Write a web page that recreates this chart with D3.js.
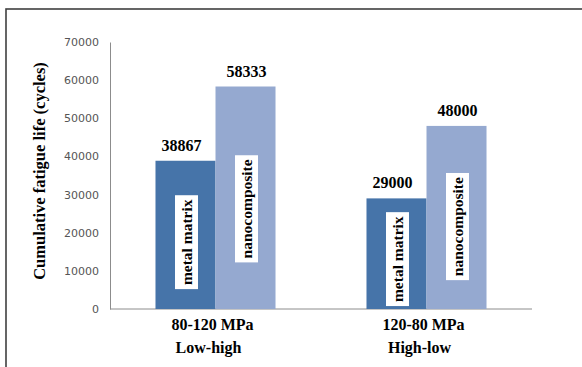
<!DOCTYPE html>
<html>
<head>
<meta charset="utf-8">
<script src="https://cdn.jsdelivr.net/npm/d3@7"></script>
<style>
  body { margin: 0; background: #fff; }
  text { font-family: "Liberation Serif", "Times New Roman", serif; }
</style>
</head>
<body>
<div id="chart"></div>
<script>
const categories = ["80-120 MPa", "120-80 MPa"];
const subLabels = ["Low-high", "High-low"];
const series = ["metal matrix", "nanocomposite"];
const metalValues = [38867, 29000];
const nanoValues = [58333, 48000];
const yTicks = [0, 10000, 20000, 30000, 40000, 50000, 60000, 70000];

const COLORS = ["#4674a9", "#95a9d0"];
const width = 582;
const height = 367;
const margin = { top: 42, right: 50, bottom: 58, left: 110 };

const svg = d3.select("#chart")
  .append("svg")
  .attr("width", width)
  .attr("height", height);

// outer frame (runs off right and bottom edge)
svg.append("rect")
  .attr("x", 6)
  .attr("y", 9)
  .attr("width", 700)
  .attr("height", 500)
  .attr("fill", "none")
  .attr("stroke", "#404040")
  .attr("stroke-width", 1.6);

const x0 = d3.scaleBand()
  .domain(categories)
  .range([margin.left, width - margin.right])
  .padding(0);

const x1 = d3.scaleBand()
  .domain(series)
  .range([0, x0.bandwidth()])
  .paddingInner(0)
  .paddingOuter(0.758);

const y = d3.scaleLinear()
  .domain([0, 70000])
  .range([height - margin.bottom, margin.top]);

const data = categories.map((c, i) => ({
  cat: c,
  sub: subLabels[i],
  vals: [metalValues[i], nanoValues[i]]
}));

// y axis
const yAxis = svg.append("g")
  .attr("transform", `translate(${margin.left},0)`)
  .call(d3.axisLeft(y).tickValues(yTicks).tickSize(0).tickPadding(11).tickFormat(d3.format("d")));
yAxis.select(".domain").attr("stroke", "#8c8c8c");
yAxis.selectAll("text")
  .style("font-family", "'DejaVu Sans', sans-serif")
  .style("font-size", "11px")
  .attr("fill", "#555");

// x baseline
svg.append("line")
  .attr("x1", margin.left)
  .attr("x2", width - margin.right)
  .attr("y1", y(0))
  .attr("y2", y(0))
  .attr("stroke", "#8c8c8c");

const groups = svg.selectAll(".grp")
  .data(data)
  .enter()
  .append("g")
  .attr("class", "grp")
  .attr("transform", (d) => `translate(${x0(d.cat)},0)`);

const bars = groups.selectAll(".bar")
  .data((d) => d.vals.map((v, j) => ({ s: series[j], v: v, j: j })))
  .enter();

bars.append("rect")
  .attr("x", (d) => x1(d.s))
  .attr("y", (d) => y(d.v))
  .attr("width", x1.bandwidth())
  .attr("height", (d) => y(0) - y(d.v))
  .attr("fill", (d) => COLORS[d.j]);

// value labels
bars.append("text")
  .attr("x", (d) => x1(d.s) + x1.bandwidth() / 2 + (d.j === 0 ? -4 : 1))
  .attr("y", (d) => y(d.v) - 10)
  .attr("text-anchor", "middle")
  .style("font-size", "16px")
  .style("font-weight", "bold")
  .text((d) => d.v);

// series names inside the bars, in white boxes
bars.append("g")
  .attr("transform", (d) => `translate(${x1(d.s) + x1.bandwidth() / 2 + 1},${y(d.v * 0.45)}) rotate(-90)`)
  .each(function (d) {
    const g = d3.select(this);
    const t = g.append("text")
      .attr("text-anchor", "middle")
      .attr("dy", "0.35em")
      .style("font-size", "15.5px")
      .style("font-weight", "bold")
      .text(d.s);
    const b = t.node().getBBox();
    g.insert("rect", "text")
      .attr("x", b.x - 4)
      .attr("y", -11.5)
      .attr("width", b.width + 8)
      .attr("height", 23)
      .attr("fill", "#fff");
  });

// category labels
groups.append("text")
  .attr("x", x0.bandwidth() / 2 - 3)
  .attr("y", y(0) + 21)
  .attr("text-anchor", "middle")
  .style("font-size", "16px")
  .style("font-weight", "bold")
  .text((d) => d.cat);

groups.append("text")
  .attr("x", x0.bandwidth() / 2 - 7)
  .attr("y", y(0) + 44)
  .attr("text-anchor", "middle")
  .style("font-size", "16px")
  .style("font-weight", "bold")
  .text((d) => d.sub);

// y title
svg.append("text")
  .attr("transform", "translate(45,171) rotate(-90)")
  .attr("text-anchor", "middle")
  .style("font-size", "16.5px")
  .style("font-weight", "bold")
  .text("Cumulative fatigue life (cycles)");
</script>
</body>
</html>
